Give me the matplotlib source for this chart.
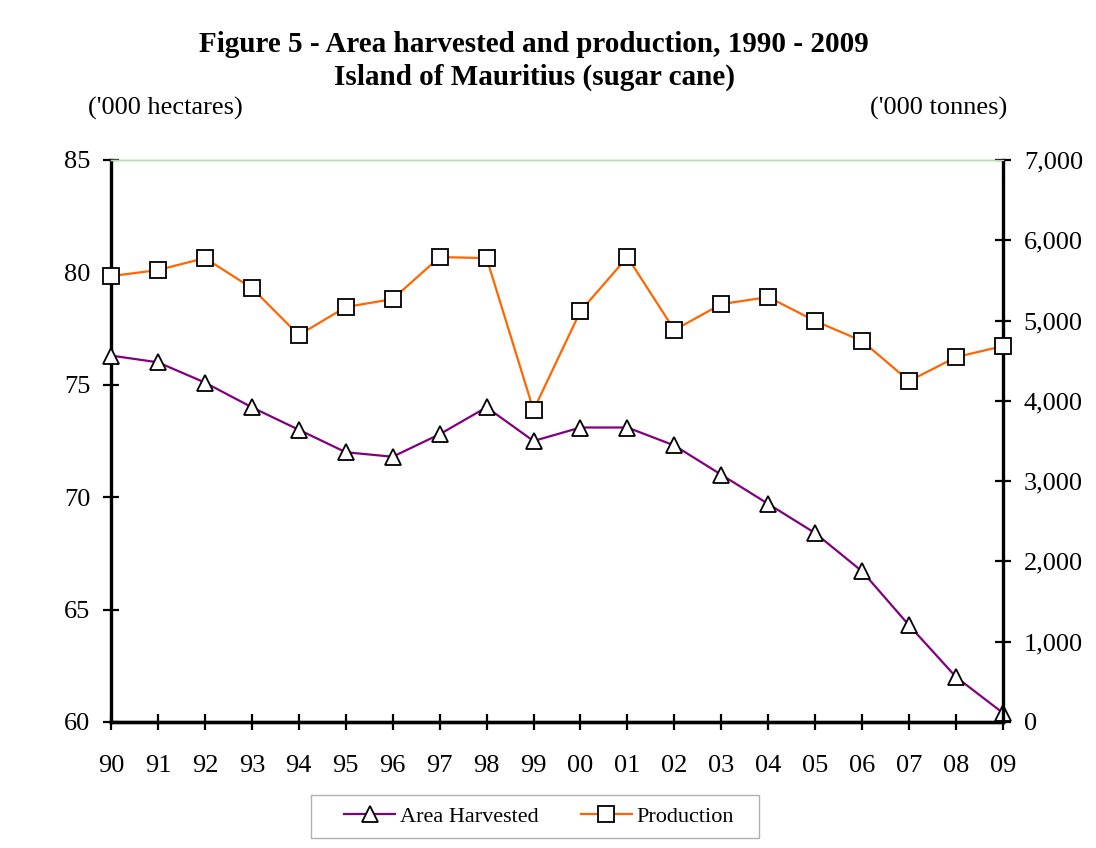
import matplotlib
matplotlib.use("Agg")
import matplotlib.pyplot as plt
from matplotlib.ticker import FuncFormatter
from matplotlib.patches import Rectangle

plt.rcParams['font.family'] = ['Liberation Serif', 'DejaVu Serif']

years = ['90', '91', '92', '93', '94', '95', '96', '97', '98', '99',
         '00', '01', '02', '03', '04', '05', '06', '07', '08', '09']
area_harvested = [76.3, 76.0, 75.1, 74.0, 73.0, 72.0, 71.8, 72.8, 74.0, 72.5,
                  73.1, 73.1, 72.3, 71.0, 69.7, 68.4, 66.7, 64.3, 62.0, 60.4]
production = [5554, 5629, 5778, 5405, 4819, 5168, 5268, 5791, 5778, 3885,
              5118, 5791, 4882, 5205, 5293, 4994, 4745, 4247, 4545, 4682]
left_ticks = [60, 65, 70, 75, 80, 85]
right_ticks = [0, 1000, 2000, 3000, 4000, 5000, 6000, 7000]

W, H = 1096, 848
fig = plt.figure(figsize=(W/100, H/100), dpi=100)
ax = fig.add_axes([111/W, 126/H, (1003-111)/W, (722-160)/H])
ax2 = ax.twinx()

x = list(range(len(years)))
l1, = ax.plot(x, area_harvested, color='#800080', lw=1.6, marker='^', ms=11,
              mfc='white', mec='black', mew=1.3, label='Area Harvested',
              zorder=3, clip_on=False)
l2, = ax2.plot(x, production, color='#FF6600', lw=1.6, marker='s', ms=11,
               mfc='white', mec='black', mew=1.3, label='Production',
               zorder=3, clip_on=False)

ax.set_xlim(0, len(years) - 1)
ax.set_ylim(60, 85)
ax2.set_ylim(0, 7000)
ax.set_xticks(x)
ax.set_xticklabels(years)
ax.set_yticks(left_ticks)
ax2.set_yticks(right_ticks)
ax2.yaxis.set_major_formatter(FuncFormatter(lambda v, p: f'{int(v):,}'))

for a in (ax, ax2):
    for s in ('left', 'right', 'bottom'):
        a.spines[s].set_linewidth(2.4)
        a.spines[s].set_color('black')
    a.spines['top'].set_color('#b8dcb0')
    a.spines['top'].set_linewidth(1.0)
    a.tick_params(direction='inout', length=12, width=1.6, labelsize=19, color='black')
ax.spines['right'].set_visible(False)
ax2.spines['left'].set_visible(False)
ax.tick_params(axis='x', pad=18)
ax.tick_params(axis='y', pad=9)
ax2.tick_params(axis='y', pad=9)

fig.text(534/W, 1 - 44/H, 'Figure 5 - Area harvested and production, 1990 - 2009',
         ha='center', va='center', fontsize=21, fontweight='bold')
fig.text(534/W, 1 - 77/H, 'Island of Mauritius (sugar cane)',
         ha='center', va='center', fontsize=21, fontweight='bold')
fig.text(88/W, 1 - 108/H, "('000 hectares)", ha='left', va='center', fontsize=19)
fig.text(1007/W, 1 - 108/H, "('000 tonnes)", ha='right', va='center', fontsize=19)

fig.patches.append(Rectangle((311/W, 1 - 838/H), (759-311)/W, (838-795)/H,
                             transform=fig.transFigure, facecolor='white',
                             edgecolor='#b0b0b0', linewidth=1.0, zorder=1))
leg = fig.legend([l1, l2], ['Area Harvested', 'Production'], loc='center',
                 bbox_to_anchor=(539/W, 1 - 817/H), ncol=2, fontsize=16,
                 frameon=False, handlelength=2.3, columnspacing=1.9,
                 handletextpad=0.2, borderaxespad=0)
leg.set_zorder(2)

fig.savefig('out.png', dpi=100)
